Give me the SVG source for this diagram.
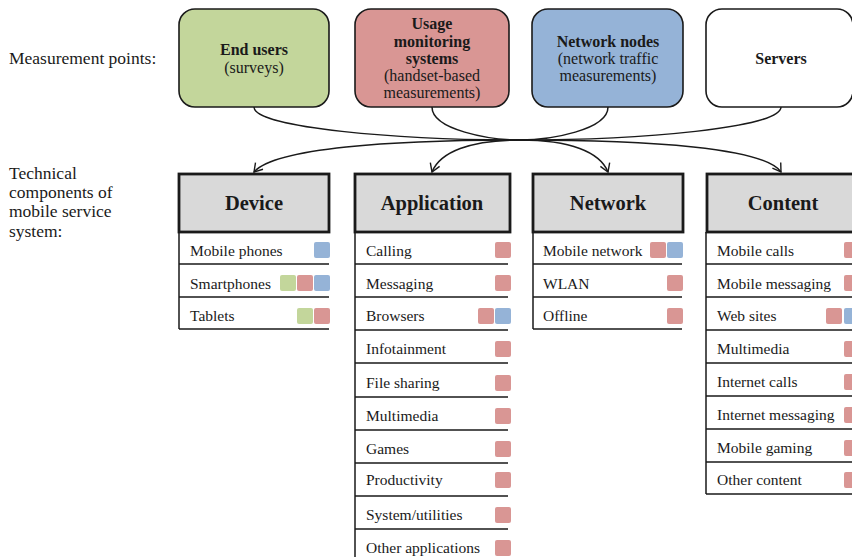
<svg xmlns="http://www.w3.org/2000/svg" width="852" height="557" viewBox="0 0 852 557">
  <style>
    text { font-family: "Liberation Serif", "Times New Roman", serif; fill: #1a1a1a; }
    .lbl { font-size: 17.5px; }
    .tb { font-size: 16px; font-weight: bold; text-anchor: middle; }
    .tr { font-size: 16px; text-anchor: middle; }
    .hd { font-size: 20.5px; font-weight: bold; text-anchor: middle; }
    .it { font-size: 15.5px; }
    .box { stroke: #1a1a1a; stroke-width: 1.6; }
    .hdr { fill: #d9d9d9; stroke: #1a1a1a; stroke-width: 2.8; }
    .ln { stroke: #1a1a1a; stroke-width: 1.5; fill: none; }
    .con { stroke: #1a1a1a; stroke-width: 1.5; fill: none; }
    .g { fill: #c3d69b; }
    .r { fill: #d99694; }
    .b { fill: #95b3d7; }
  </style>
  <defs>
    <marker id="arrow" markerUnits="userSpaceOnUse" markerWidth="20" markerHeight="20" refX="0" refY="0" viewBox="-10 -10 20 20" orient="auto">
      <path d="M-8,-5 L0,0 L-8,5" fill="none" stroke="#1a1a1a" stroke-width="1.4"/>
    </marker>
    <rect id="sq" width="16" height="16" rx="2"/>
  </defs>

  <!-- row labels on the left -->
  <g id="labels">
    <text class="lbl" x="9" y="64">Measurement points:</text>
    <text class="lbl" x="9" y="179">Technical</text>
    <text class="lbl" x="9" y="198">components of</text>
    <text class="lbl" x="9" y="217">mobile service</text>
    <text class="lbl" x="9" y="237">system:</text>
  </g>

  <!-- measurement points -->
  <g id="end-users">
    <rect class="box g" x="179" y="9" width="150" height="98" rx="16"/>
    <text class="tb" x="254" y="55">End users</text>
    <text class="tr" x="254" y="73">(surveys)</text>
  </g>
  <g id="usage-monitoring">
    <rect class="box r" x="355" y="9" width="154" height="98" rx="16" stroke-width="2.6"/>
    <text class="tb" x="432" y="29">Usage</text>
    <text class="tb" x="432" y="46.5">monitoring</text>
    <text class="tb" x="432" y="64">systems</text>
    <text class="tr" x="432" y="81">(handset-based</text>
    <text class="tr" x="432" y="98">measurements)</text>
  </g>
  <g id="network-nodes">
    <rect class="box b" x="532" y="9" width="151" height="98" rx="16"/>
    <text class="tb" x="608" y="47">Network nodes</text>
    <text class="tr" x="608" y="64">(network traffic</text>
    <text class="tr" x="608" y="81">measurements)</text>
  </g>
  <g id="servers">
    <rect class="box" fill="#ffffff" x="706" y="9" width="147" height="98" rx="16"/>
    <text class="tb" x="781" y="64">Servers</text>
  </g>

  <!-- connectors converging and fanning out -->
  <g id="connectors">
    <path class="con" d="M254,107 C254,128 400,140 520,140"/>
    <path class="con" d="M432,107 C432,130 490,140 520,140"/>
    <path class="con" d="M608,107 C608,130 550,140 520,140"/>
    <path class="con" d="M781,107 C781,128 640,140 520,140"/>
    <path class="con" marker-end="url(#arrow)" d="M520,140 C390,140 275,148 254,172"/>
    <path class="con" marker-end="url(#arrow)" d="M520,140 C470,140 440,152 432,172"/>
    <path class="con" marker-end="url(#arrow)" d="M520,140 C570,140 600,152 608,172"/>
    <path class="con" marker-end="url(#arrow)" d="M520,140 C650,140 765,148 781,172"/>
  </g>

  <!-- Device column -->
  <g id="device">
    <rect class="hdr" x="179" y="174" width="150" height="58"/>
    <text class="hd" x="254" y="210">Device</text>
    <path class="ln" d="M179,232 V329 M179,264 H329 M179,297 H329 M179,329 H329"/>
    <text class="it" x="190" y="256">Mobile phones</text>
    <text class="it" x="190" y="289">Smartphones</text>
    <text class="it" x="190" y="321">Tablets</text>
    <use href="#sq" class="b" x="314" y="242"/>
    <use href="#sq" class="g" x="280" y="275"/>
    <use href="#sq" class="r" x="297" y="275"/>
    <use href="#sq" class="b" x="314" y="275"/>
    <use href="#sq" class="g" x="297" y="308"/>
    <use href="#sq" class="r" x="314" y="308"/>
  </g>

  <!-- Application column -->
  <g id="application">
    <rect class="hdr" x="355" y="174" width="155" height="58"/>
    <text class="hd" x="432" y="210">Application</text>
    <path class="ln" d="M355,232 V557 M355,264 H508 M355,297 H508 M355,330 H508 M355,363 H508 M355,397 H508 M355,430 H508 M355,463 H508 M355,496 H508 M355,529 H508"/>
    <text class="it" x="366" y="256">Calling</text>
    <text class="it" x="366" y="289">Messaging</text>
    <text class="it" x="366" y="321">Browsers</text>
    <text class="it" x="366" y="354">Infotainment</text>
    <text class="it" x="366" y="388">File sharing</text>
    <text class="it" x="366" y="421">Multimedia</text>
    <text class="it" x="366" y="454">Games</text>
    <text class="it" x="366" y="485">Productivity</text>
    <text class="it" x="366" y="520">System/utilities</text>
    <text class="it" x="366" y="553">Other applications</text>
    <use href="#sq" class="r" x="495" y="242"/>
    <use href="#sq" class="r" x="495" y="275"/>
    <use href="#sq" class="r" x="478" y="308"/>
    <use href="#sq" class="b" x="495" y="308"/>
    <use href="#sq" class="r" x="495" y="341"/>
    <use href="#sq" class="r" x="495" y="375"/>
    <use href="#sq" class="r" x="495" y="408"/>
    <use href="#sq" class="r" x="495" y="441"/>
    <use href="#sq" class="r" x="495" y="472"/>
    <use href="#sq" class="r" x="495" y="507"/>
    <use href="#sq" class="r" x="495" y="540"/>
  </g>

  <!-- Network column -->
  <g id="network">
    <rect class="hdr" x="533" y="174" width="150" height="58"/>
    <text class="hd" x="608" y="210">Network</text>
    <path class="ln" d="M533,232 V329 M533,264 H682 M533,297 H682 M533,329 H682"/>
    <text class="it" x="543" y="256">Mobile network</text>
    <text class="it" x="543" y="289">WLAN</text>
    <text class="it" x="543" y="321">Offline</text>
    <use href="#sq" class="r" x="650" y="242"/>
    <use href="#sq" class="b" x="667" y="242"/>
    <use href="#sq" class="r" x="667" y="275"/>
    <use href="#sq" class="r" x="667" y="308"/>
  </g>

  <!-- Content column -->
  <g id="content">
    <rect class="hdr" x="707" y="174" width="150" height="58"/>
    <text class="hd" x="783" y="210">Content</text>
    <path class="ln" d="M706,232 V494 M706,264 H852 M706,297 H852 M706,330 H852 M706,363 H852 M706,396 H852 M706,429 H852 M706,462 H852 M706,494 H852"/>
    <text class="it" x="717" y="256">Mobile calls</text>
    <text class="it" x="717" y="289">Mobile messaging</text>
    <text class="it" x="717" y="321">Web sites</text>
    <text class="it" x="717" y="354">Multimedia</text>
    <text class="it" x="717" y="387">Internet calls</text>
    <text class="it" x="717" y="420">Internet messaging</text>
    <text class="it" x="717" y="453">Mobile gaming</text>
    <text class="it" x="717" y="485">Other content</text>
    <use href="#sq" class="r" x="844" y="242"/>
    <use href="#sq" class="r" x="844" y="275"/>
    <use href="#sq" class="r" x="826" y="308"/>
    <use href="#sq" class="b" x="844" y="308"/>
    <use href="#sq" class="r" x="844" y="341"/>
    <use href="#sq" class="r" x="844" y="374"/>
    <use href="#sq" class="r" x="844" y="407"/>
    <use href="#sq" class="r" x="844" y="440"/>
    <use href="#sq" class="r" x="844" y="472"/>
  </g>
</svg>
